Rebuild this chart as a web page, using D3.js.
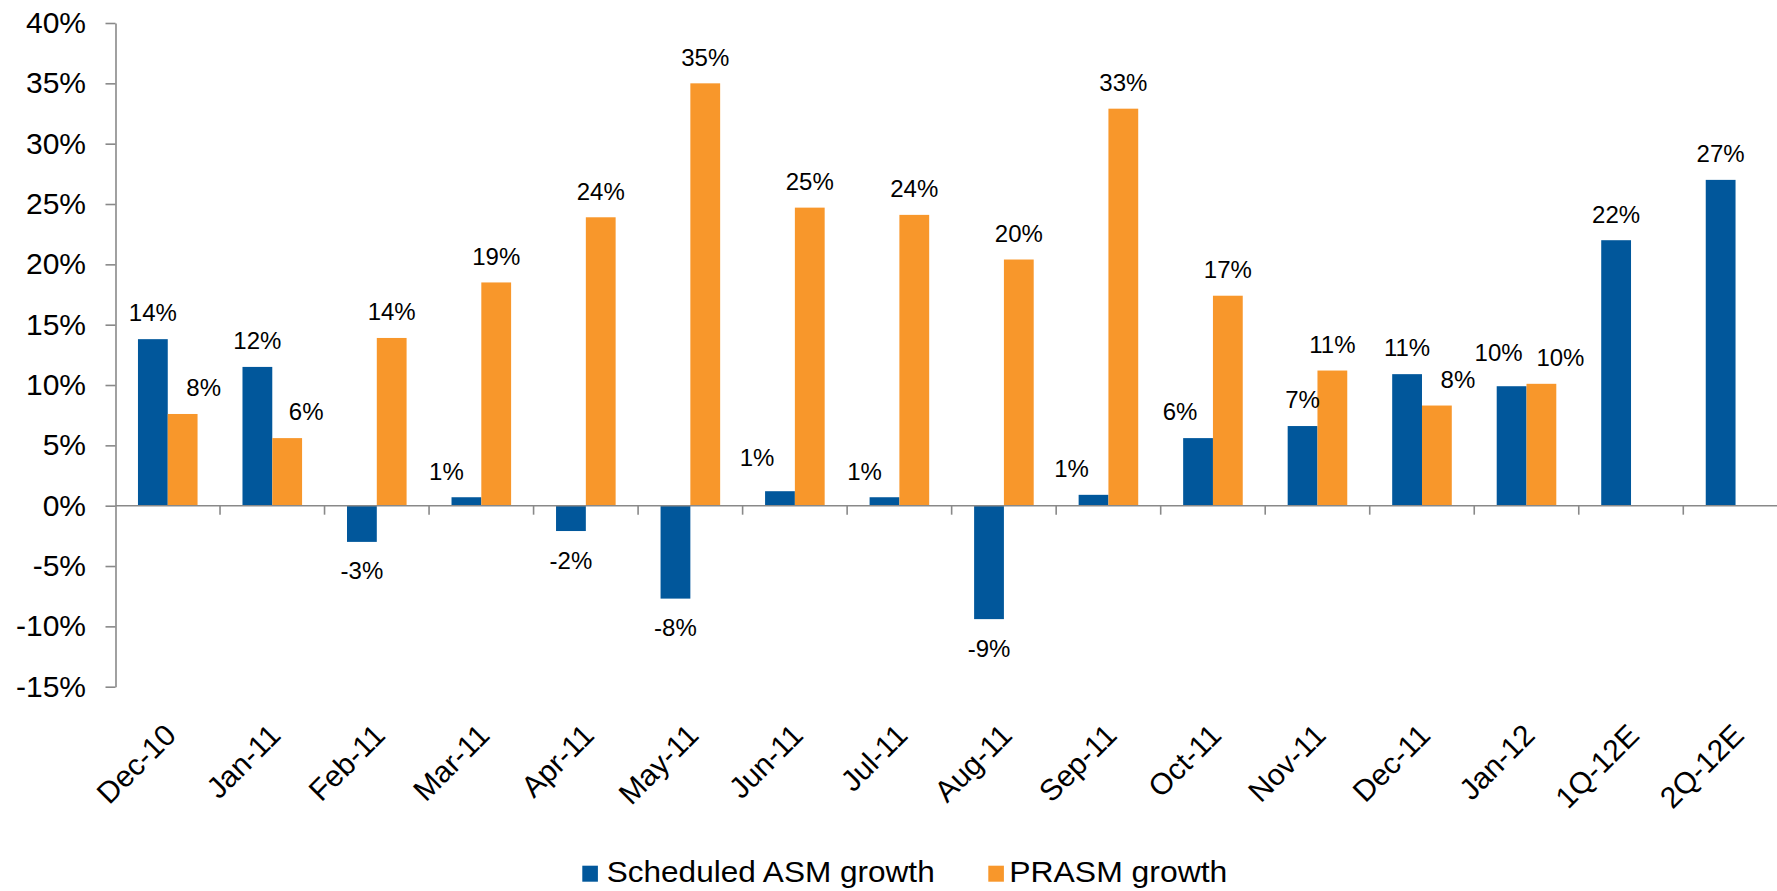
<!DOCTYPE html>
<html>
<head>
<meta charset="utf-8">
<script src="https://cdn.jsdelivr.net/npm/d3@7"></script>
<style>
  html, body { margin: 0; padding: 0; background: #fff; }
  svg { display: block; }
  text { font-family: "Liberation Sans", Arial, Helvetica, sans-serif; fill: #000; }
</style>
</head>
<body>
<svg id="chart" width="1777" height="891"></svg>
<script>
// ---- data ----
const categories = ["Dec-10","Jan-11","Feb-11","Mar-11","Apr-11","May-11","Jun-11","Jul-11","Aug-11","Sep-11","Oct-11","Nov-11","Dec-11","Jan-12","1Q-12E","2Q-12E"];
const asmGrowth   = [13.8, 11.5, -3.0, 0.7, -2.1, -7.7, 1.2, 0.7, -9.4, 0.9, 5.6, 6.6, 10.9, 9.9, 22.0, 27.0];
const prasmGrowth = [7.6, 5.6, 13.9, 18.5, 23.9, 35.0, 24.7, 24.1, 20.4, 32.9, 17.4, 11.2, 8.3, 10.1, null, null];
const seriesNames = ["Scheduled ASM growth", "PRASM growth"];
const yTicks = [-15, -10, -5, 0, 5, 10, 15, 20, 25, 30, 35, 40];

// ---- layout (label nudges, as placed in the original) ----
const asmLabelDx   = [0, 0, 0, -20, 0, 0, -23, -20, 0, -22, -18, 0, 0, -13, 0, 0];
const asmLabelDy   = [0, 0, 0, 0, 0, 0, -8, 0, 0, 0, 0, 0, 0, -8, 0, 0];
const prasmLabelDx = [21, 19, 0, 0, 0, 0, 0, 0, 0, 0, 0, 0, 21, 19, 0, 0];

const colors = { asm: "#01579B", prasm: "#F8972B" };
const axisColor = "#898989";

const svg = d3.select("#chart");
const plotLeft = 115.5, plotRight = 1787.8, plotTop = 23, plotBottom = 686.7;

const x0 = d3.scaleBand().domain(categories).range([plotLeft, plotRight]).padding(0);
const x1 = d3.scaleBand().domain(["asm", "prasm"]).range([0, x0.bandwidth()]).paddingInner(0).paddingOuter(0.754);
const y = d3.scaleLinear().domain([-15, 40]).range([plotBottom, plotTop]);

const rows = categories.map((c, i) => ({ c, i, asm: asmGrowth[i], prasm: prasmGrowth[i] }));

// bars
const g = svg.append("g");
["asm", "prasm"].forEach(key => {
  g.selectAll("rect." + key)
    .data(rows.filter(d => d[key] !== null))
    .join("rect")
    .attr("class", key)
    .attr("x", d => x0(d.c) + x1(key))
    .attr("width", x1.bandwidth())
    .attr("y", d => y(Math.max(0, d[key])))
    .attr("height", d => Math.abs(y(d[key]) - y(0)))
    .attr("fill", colors[key]);
});

// x axis line at zero with boundary ticks
svg.append("line")
  .attr("x1", plotLeft).attr("x2", plotRight)
  .attr("y1", y(0)).attr("y2", y(0))
  .attr("stroke", axisColor).attr("stroke-width", 1.6);
svg.selectAll("line.xtick")
  .data(categories.slice(1))
  .join("line")
  .attr("class", "xtick")
  .attr("x1", d => x0(d)).attr("x2", d => x0(d))
  .attr("y1", y(0)).attr("y2", y(0) + 9)
  .attr("stroke", axisColor).attr("stroke-width", 1.6);

// y axis
const yAxis = svg.append("g")
  .attr("transform", `translate(${plotLeft},0)`)
  .call(d3.axisLeft(y).tickValues(yTicks).tickSize(10).tickSizeOuter(0).tickPadding(19.5).tickFormat(d => d + "%"));
yAxis.select(".domain").attr("stroke", axisColor).attr("stroke-width", 1.6);
yAxis.selectAll(".tick line").attr("stroke", axisColor).attr("stroke-width", 1.6);
yAxis.selectAll(".tick text").style("font-size", "30px").attr("fill", "#000")
  .style("font-family", '"Liberation Sans", Arial, sans-serif');

// category labels
svg.selectAll("text.xlab")
  .data(categories)
  .join("text")
  .attr("class", "xlab")
  .attr("text-anchor", "end")
  .attr("transform", d => `translate(${x0(d) + x0.bandwidth() / 2 + 10},737) rotate(-45)`)
  .style("font-size", "30px")
  .text(d => d);

// data labels
function addLabels(key, dxArr, dyArr) {
  svg.selectAll("text.lab-" + key)
    .data(rows.filter(d => d[key] !== null))
    .join("text")
    .attr("class", "lab-" + key)
    .attr("text-anchor", "middle")
    .attr("x", d => x0(d.c) + x1(key) + x1.bandwidth() / 2 + (dxArr ? dxArr[d.i] : 0))
    .attr("y", d => (d[key] >= 0 ? y(d[key]) - 17.7 : y(d[key]) + 37.5) + (dyArr ? dyArr[d.i] : 0))
    .style("font-size", "24px")
    .text(d => Math.round(d[key]) + "%");
}
addLabels("asm", asmLabelDx, asmLabelDy);
addLabels("prasm", prasmLabelDx, null);

// legend
const legend = [
  { key: "asm", name: seriesNames[0], rx: 582.3, tx: 606.7, tl: 328 },
  { key: "prasm", name: seriesNames[1], rx: 988.3, tx: 1009.3, tl: 218 }
];
legend.forEach(l => {
  svg.append("rect").attr("x", l.rx).attr("y", 865.7).attr("width", 15.6).attr("height", 16).attr("fill", colors[l.key]);
  svg.append("text").attr("x", l.tx).attr("y", 882)
    .attr("textLength", l.tl).attr("lengthAdjust", "spacingAndGlyphs")
    .style("font-size", "29.5px").text(l.name);
});
</script>
</body>
</html>
